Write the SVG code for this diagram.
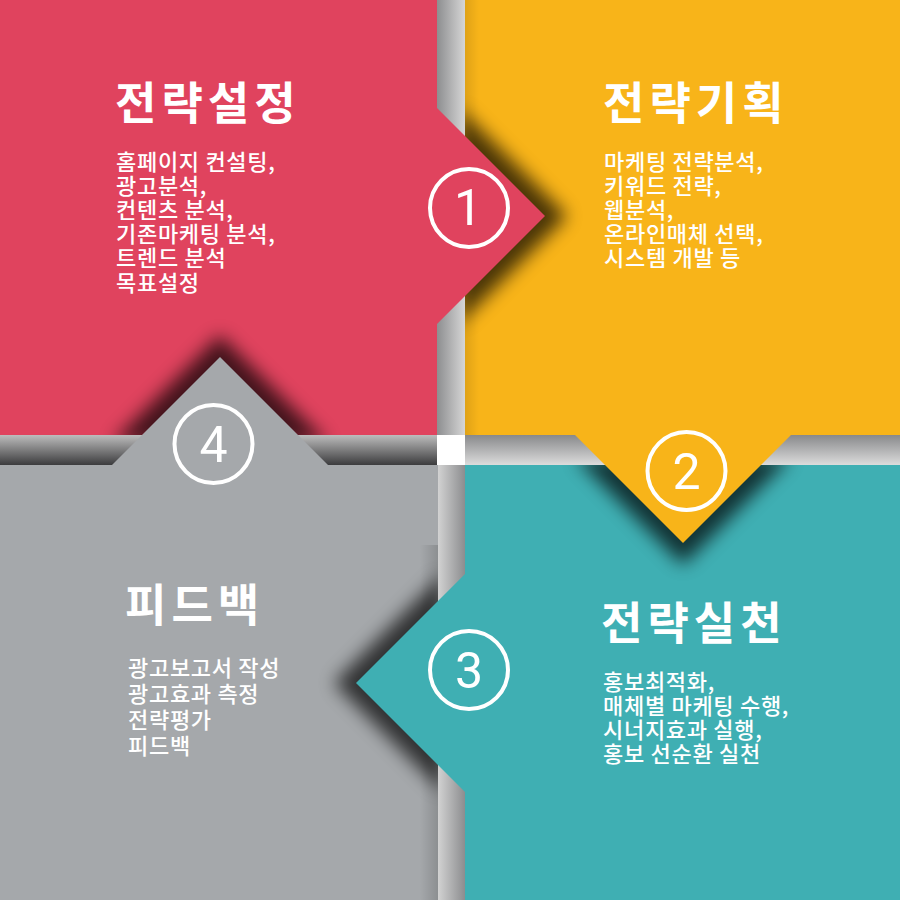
<svg xmlns="http://www.w3.org/2000/svg" width="900" height="900" viewBox="0 0 900 900">
  <style>
    .title { font-family: "Noto Sans CJK KR", "Noto Sans", sans-serif; font-weight: 700; font-size: 45px; fill: #ffffff; letter-spacing: 5px; }
    .body { font-family: "Noto Sans CJK KR", "Noto Sans", sans-serif; font-weight: 500; font-size: 22px; fill: #ffffff; letter-spacing: 0.7px; }
    .num { font-family: "Roboto", "Open Sans", sans-serif; font-weight: 400; font-size: 50px; fill: #ffffff; text-anchor: middle; }
    .ring { fill: none; stroke: #ffffff; stroke-width: 4; }
    .shadow { fill: #000000; opacity: 0.7; filter: url(#blur); }
  </style>
  <defs>
    <filter id="blur" x="-50%" y="-50%" width="200%" height="200%">
      <feGaussianBlur stdDeviation="9"/>
    </filter>
    <linearGradient id="gV1" x1="0" y1="0" x2="1" y2="0">
      <stop offset="0" stop-color="#8d8e90"/>
      <stop offset="1" stop-color="#d6d6d6"/>
    </linearGradient>
    <linearGradient id="gH1" x1="0" y1="0" x2="0" y2="1">
      <stop offset="0" stop-color="#bdbdbd"/>
      <stop offset="1" stop-color="#3c3c3e"/>
    </linearGradient>
    <linearGradient id="gH2" x1="0" y1="0" x2="0" y2="1">
      <stop offset="0" stop-color="#88898b"/>
      <stop offset="1" stop-color="#dcdcdc"/>
    </linearGradient>
    <linearGradient id="gV2" x1="0" y1="0" x2="1" y2="0">
      <stop offset="0" stop-color="#d2d2d2"/>
      <stop offset="1" stop-color="#8c8d8f"/>
    </linearGradient>
    <linearGradient id="edgeL" x1="0" y1="0" x2="1" y2="0">
      <stop offset="0" stop-color="#000" stop-opacity="0.1"/>
      <stop offset="1" stop-color="#000" stop-opacity="0"/>
    </linearGradient>
    <linearGradient id="edgeR" x1="0" y1="0" x2="1" y2="0">
      <stop offset="0" stop-color="#000" stop-opacity="0"/>
      <stop offset="1" stop-color="#000" stop-opacity="0.15"/>
    </linearGradient>
    <clipPath id="clipY"><rect x="465" y="0" width="435" height="435"/></clipPath>
    <clipPath id="clipT"><rect x="465" y="465" width="435" height="435"/></clipPath>
    <clipPath id="clipG"><rect x="0" y="465" width="438" height="435"/></clipPath>
    <clipPath id="clipR"><rect x="0" y="0" width="437" height="435"/></clipPath>
  </defs>

  <rect x="0" y="0" width="900" height="900" fill="#ffffff"/>

  <!-- base panels -->
  <g id="panels">
    <rect x="0" y="0" width="437" height="435" fill="#e0435e"/>
    <rect x="465" y="0" width="435" height="435" fill="#f8b419"/>
    <rect x="465" y="465" width="435" height="435" fill="#3fafb3"/>
    <rect x="0" y="465" width="438" height="435" fill="#a5a8ab"/>
    <rect x="465" y="0" width="14" height="435" fill="url(#edgeL)"/>
    <rect x="420" y="545" width="18" height="355" fill="url(#edgeR)"/>
  </g>

  <!-- folded strips between panels -->
  <g id="connectors">
    <rect x="437" y="0" width="28" height="435" fill="url(#gV1)"/>
    <rect x="0" y="435" width="437" height="30" fill="url(#gH1)"/>
    <rect x="465" y="435" width="435" height="30" fill="url(#gH2)"/>
    <rect x="438" y="465" width="27" height="435" fill="url(#gV2)"/>
    <rect x="437" y="435" width="28" height="30" fill="#ffffff"/>
  </g>

  <!-- arrow shadows -->
  <g id="shadows">
    <g clip-path="url(#clipY)">
      <polygon class="shadow" points="459,108 567,216 459,324"/>
    </g>
    <g clip-path="url(#clipT)">
      <polygon class="shadow" points="575,457 683,565 791,457"/>
    </g>
    <g clip-path="url(#clipG)">
      <polygon class="shadow" points="443,574 334,683 443,792"/>
    </g>
    <g clip-path="url(#clipR)">
      <polygon class="shadow" points="112,443 220,335 328,443"/>
    </g>
  </g>

  <g id="node1">
    <polygon points="437,108 545,216 437,324" fill="#e0435e"/>
    <circle class="ring" cx="469" cy="208" r="39"/>
    <text class="num" x="468" y="225">1</text>
    <text class="title" x="115" y="120">전략설정</text>
    <text class="body">
      <tspan x="116" y="169.5">홈페이지 컨설팅,</tspan>
      <tspan x="116" y="193.7">광고분석,</tspan>
      <tspan x="116" y="217.9">컨텐츠 분석,</tspan>
      <tspan x="116" y="242.1">기존마케팅 분석,</tspan>
      <tspan x="116" y="266.3">트렌드 분석</tspan>
      <tspan x="116" y="290.5">목표설정</tspan>
    </text>
  </g>

  <g id="node2">
    <polygon points="575,435 683,543 791,435" fill="#f8b419"/>
    <circle class="ring" cx="686.5" cy="471" r="39"/>
    <text class="num" x="686.5" y="488.5">2</text>
    <text class="title" x="603" y="120">전략기획</text>
    <text class="body">
      <tspan x="604" y="169.5">마케팅 전략분석,</tspan>
      <tspan x="604" y="193.7">키워드 전략,</tspan>
      <tspan x="604" y="217.9">웹분석,</tspan>
      <tspan x="604" y="242.1">온라인매체 선택,</tspan>
      <tspan x="604" y="266.3">시스템 개발 등</tspan>
    </text>
  </g>

  <g id="node3">
    <polygon points="465,574 356,683 465,792" fill="#3fafb3"/>
    <circle class="ring" cx="469" cy="670" r="39"/>
    <text class="num" x="469" y="687.5">3</text>
    <text class="title" x="601" y="640">전략실천</text>
    <text class="body">
      <tspan x="603" y="689.5">홍보최적화,</tspan>
      <tspan x="603" y="713.8">매체별 마케팅 수행,</tspan>
      <tspan x="603" y="738.1">시너지효과 실행,</tspan>
      <tspan x="603" y="762.4">홍보 선순환 실천</tspan>
    </text>
  </g>

  <g id="node4">
    <polygon points="112,465 220,357 328,465" fill="#a5a8ab"/>
    <circle class="ring" cx="213.5" cy="444" r="39"/>
    <text class="num" x="213.5" y="461.5">4</text>
    <text class="title" x="125" y="622">피드백</text>
    <text class="body">
      <tspan x="128" y="676">광고보고서 작성</tspan>
      <tspan x="128" y="702">광고효과 측정</tspan>
      <tspan x="128" y="728">전략평가</tspan>
      <tspan x="128" y="754">피드백</tspan>
    </text>
  </g>
</svg>
